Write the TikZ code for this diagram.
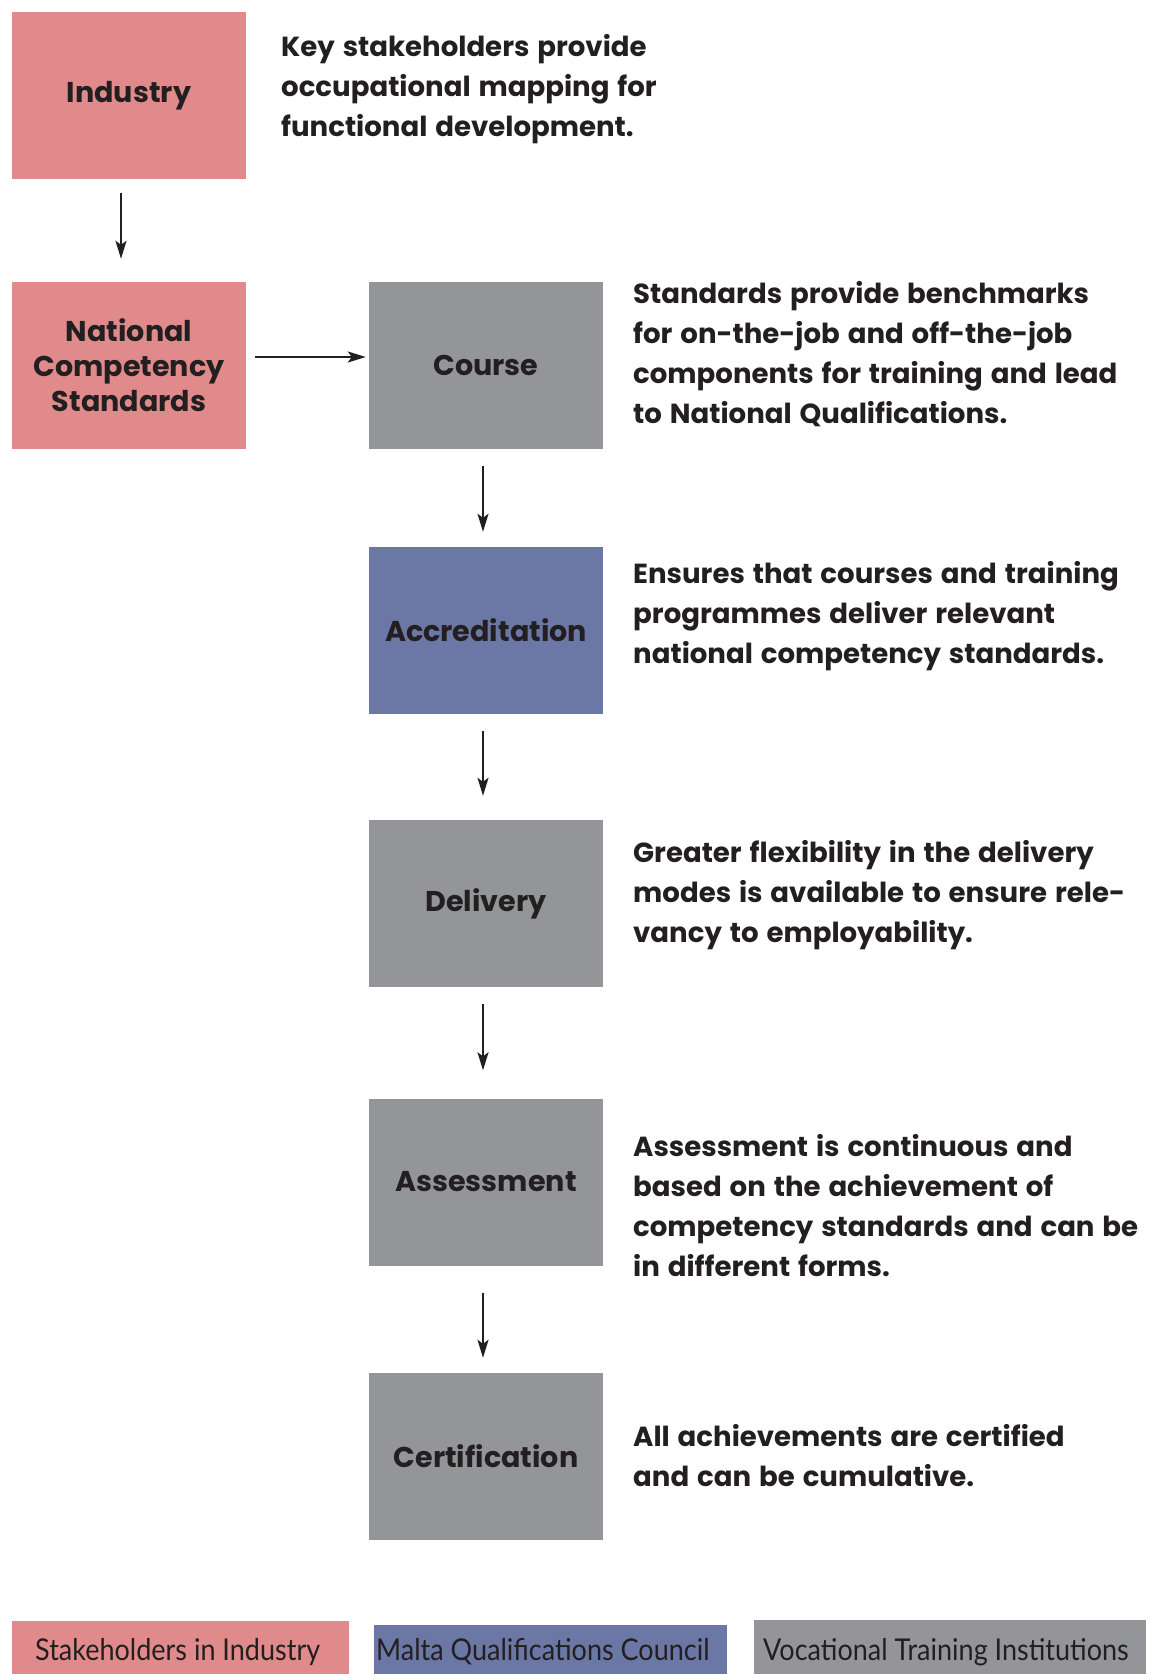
\documentclass[tikz,border=0pt]{standalone}
\usepackage{fontspec}
\setmainfont{Poppins}[WordSpace=1.35]
\newfontfamily\legendfont{Lato}[FakeStretch=0.9]
\usetikzlibrary{arrows.meta}
\definecolor{pinkc}{HTML}{E08A8B}
\definecolor{bluec}{HTML}{6B78A6}
\definecolor{grayc}{HTML}{939598}
\definecolor{inkc}{HTML}{231F20}
\tikzset{
  box/.style={minimum width=234pt, minimum height=167pt, inner sep=0pt, align=center,
    text=inkc, font=\fontsize{28.6}{35}\selectfont\bfseries},
  desc/.style={anchor=north west, inner sep=0pt, align=left, text=inkc,
    font=\fontsize{27.6}{40}\selectfont\bfseries},
  conn/.style={draw=inkc, line width=2pt, -{Stealth[length=18pt,width=11pt,inset=4pt]}},
  legtext/.style={anchor=base west, inner sep=0pt, text=inkc, font=\legendfont\fontsize{30}{32}\selectfont}
}
\begin{document}
\begin{tikzpicture}[x=1pt,y=-1pt]
\useasboundingbox (0,0) rectangle (1154,1674);
% boxes
\node[box, fill=pinkc] (ind) at (129,95.5) {Industry};
\node[box, fill=pinkc] (ncs) at (129,365.5) {National\\Competency\\Standards};
\node[box, fill=grayc] (course) at (486,365.5) {Course};
\node[box, fill=bluec] (acc) at (486,630.5) {Accreditation};
\node[box, fill=grayc] (del) at (486,903.5) {Delivery};
\node[box, fill=grayc] (ass) at (486,1182) {Assessment};
\node[box, fill=grayc] (cert) at (486,1456.5) {Certification};
% connectors
\draw[conn, shorten <=14pt, shorten >=23pt] ([xshift=-8pt]ind.south) -- ([xshift=-8pt]ncs.north);
\draw[conn, shorten <=9pt, shorten >=3pt] ([yshift=8.5pt]ncs.east) -- ([yshift=8.5pt]course.west);
\draw[conn, shorten <=17pt, shorten >=15pt] ([xshift=-3pt]course.south) -- ([xshift=-3pt]acc.north);
\draw[conn, shorten <=17pt, shorten >=24pt] ([xshift=-3pt]acc.south) -- ([xshift=-3pt]del.north);
\draw[conn, shorten <=17pt, shorten >=28pt] ([xshift=-3pt]del.south) -- ([xshift=-3pt]ass.north);
\draw[conn, shorten <=27pt, shorten >=15pt] ([xshift=-3pt]ass.south) -- ([xshift=-3pt]cert.north);
% descriptions
\node[desc] (d1) at (281,34) {Key stakeholders provide\\occupational mapping for\\functional development.};
\node[desc] (d2) at (633,281) {Standards provide benchmarks\\for on-the-job and off-the-job\\components for training and lead\\to National Qualifications.};
\node[desc] (d3) at (633,561) {Ensures that courses and training\\programmes deliver relevant\\national competency standards.};
\node[desc] (d4) at (633,840) {Greater flexibility in the delivery\\modes is available to ensure rele-\\vancy to employability.};
\node[desc] (d5) at (633,1134) {Assessment is continuous and\\based on the achievement of\\competency standards and can be\\in different forms.};
\node[desc] (d6) at (633,1424) {All achievements are certified\\and can be cumulative.};
% legend
\path[fill=pinkc] (12,1621) rectangle (349,1674);
\path[fill=bluec] (374,1625) rectangle (727,1674);
\path[fill=grayc] (754,1620) rectangle (1146,1674);
\node[legtext] (l1) at (35,1660) {Stakeholders in Industry};
\node[legtext] (l2) at (376,1660) {Malta Qualifications Council};
\node[legtext] (l3) at (763,1660) {Vocational Training Institutions};
\end{tikzpicture}
\end{document}
